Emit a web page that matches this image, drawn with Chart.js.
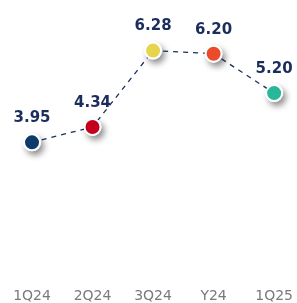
<!DOCTYPE html>
<html>
<head>
<meta charset="utf-8">
<script src="https://cdn.jsdelivr.net/npm/chart.js@4"></script>
<style>
  html, body { margin: 0; padding: 0; background: #fff; overflow: hidden; }
  #wrap { width: 297px; height: 303px; }
</style>
</head>
<body>
<div id="wrap"><canvas id="eps-chart"></canvas></div>
<script>
const periods = ['1Q24', '2Q24', '3Q24', 'Y24', '1Q25'];
const values = [3.95, 4.34, 6.28, 6.20, 5.20];
const pointColors = ['#0b3a6b', '#c4001c', '#e6d44c', '#ec4b2b', '#27b899'];

const navy = '#1a2d5c';

// soft shadow under each dot
const dotShadow = {
    id: 'dotShadow',
    beforeDatasetsDraw(chart) {
        const ctx = chart.ctx;
        const meta = chart.getDatasetMeta(0);
        ctx.save();
        meta.data.forEach(pt => {
            ctx.shadowColor = 'rgba(0,0,0,0.45)';
            ctx.shadowBlur = 6;
            ctx.shadowOffsetX = 3;
            ctx.shadowOffsetY = 4;
            ctx.fillStyle = '#fff';
            ctx.beginPath();
            ctx.arc(pt.x, pt.y, 9, 0, Math.PI * 2);
            ctx.fill();
        });
        ctx.restore();
    }
};

// value labels above the dots
const valueLabels = {
    id: 'valueLabels',
    afterDatasetsDraw(chart) {
        const ctx = chart.ctx;
        const meta = chart.getDatasetMeta(0);
        ctx.save();
        ctx.font = 'bold 15px "DejaVu Sans"';
        ctx.fillStyle = navy;
        ctx.textAlign = 'center';
        ctx.textBaseline = 'middle';
        meta.data.forEach((pt, i) => {
            ctx.fillText(values[i].toFixed(2), pt.x, pt.y - 24);
        });
        ctx.restore();
    }
};

const ctx1 = document.getElementById('eps-chart').getContext('2d');
const epsChart = new Chart(ctx1, {
    type: 'line',
    data: {
        labels: periods,
        datasets: [{
            data: values,
            borderColor: navy,
            borderWidth: 1.3,
            borderDash: [5, 5],
            tension: 0,
            pointRadius: 8,
            pointHoverRadius: 8,
            pointBackgroundColor: pointColors,
            pointBorderColor: '#fff',
            pointBorderWidth: 2
        }]
    },
    options: {
        responsive: true,
        maintainAspectRatio: false,
        animation: false,
        layout: { padding: { left: 32, right: 22, top: 12, bottom: -6 } },
        plugins: {
            legend: { display: false },
            tooltip: { enabled: false }
        },
        scales: {
            x: {
                offset: false,
                grid: { display: false },
                border: { display: false },
                ticks: {
                    color: '#7a7a7a',
                    font: { family: 'DejaVu Sans', size: 14 },
                    padding: 4,
                    maxRotation: 0
                }
            },
            y: {
                display: false,
                min: 0.55,
                max: 7.26
            }
        }
    },
    plugins: [dotShadow, valueLabels]
});
</script>
</body>
</html>
